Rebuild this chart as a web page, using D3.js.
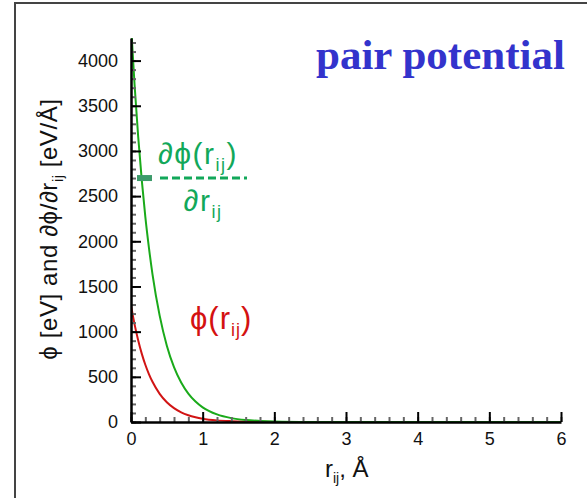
<!DOCTYPE html>
<html lang="en">
<head>
    <meta charset="UTF-8">
    <title>pair potential</title>
    <style>
        body{ margin:0; background:#fff; }
        svg{ display:block; font-family:"Liberation Sans", Arial, sans-serif; }
    </style>
</head>
<body>
    <script src="https://cdnjs.cloudflare.com/ajax/libs/d3/7.8.2/d3.min.js"></script>
    <script>

        // distances r_ij (Å) where the curves were read
        const rValues = [0, 0.05, 0.1, 0.15, 0.2, 0.25, 0.3, 0.4, 0.5, 0.6, 0.7, 0.8, 0.9, 1.0, 1.2, 1.4, 1.6, 1.8, 2.0, 2.5, 3.0, 4.0, 5.0, 6.0];
        // phi(r_ij) in eV (red)
        const phiValues = [1290, 1080, 905, 757, 634, 531, 445, 312, 219, 153, 107, 75, 53, 37, 18, 9, 4, 2, 1, 0, 0, 0, 0, 0];
        // d phi / d r_ij in eV/Å (green, magnitude)
        const dphiValues = [4400, 3730, 3160, 2680, 2270, 1930, 1635, 1177, 845, 607, 437, 314, 226, 162, 84, 43, 22, 12, 6, 1, 0, 0, 0, 0];

        const xTicks = [0, 1, 2, 3, 4, 5, 6];
        const yTicks = [0, 500, 1000, 1500, 2000, 2500, 3000, 3500, 4000];

        const w = 587;
        const h = 498;
        const pLeft = 131, pRight = 561, pTop = 38, pBottom = 422;
        const font = "Liberation Sans, Arial, sans-serif";

        const svg = d3.select("body")
            .append("svg")
            .attr("width", w)
            .attr("height", h)

        // frame
        svg.append("path")
            .attr("d", "M15,498V3H587")
            .attr("fill", "none")
            .attr("stroke", "#444")
            .attr("stroke-width", 2)

        const x = d3.scaleLinear().domain([0, 6]).range([pLeft, pRight])
        const y = d3.scaleLinear().domain([0, 4250]).range([pBottom, pTop])

        svg.append("clipPath").attr("id", "clip")
            .append("rect")
            .attr("x", pLeft).attr("y", pTop)
            .attr("width", pRight - pLeft).attr("height", pBottom - pTop)

        const line = vals => d3.line()
            .x((d, i) => x(rValues[i]))
            .y(d => y(d))
            .curve(d3.curveMonotoneX)(vals)

        svg.append("path")
            .attr("d", line(phiValues))
            .attr("clip-path", "url(#clip)")
            .attr("fill", "none")
            .attr("stroke", "#d11414")
            .attr("stroke-width", 2)

        svg.append("path")
            .attr("d", line(dphiValues))
            .attr("clip-path", "url(#clip)")
            .attr("fill", "none")
            .attr("stroke", "#1aaa1a")
            .attr("stroke-width", 2)

        // minor ticks
        svg.append("g")
            .attr("transform", `translate(0,${pBottom})`)
            .call(d3.axisBottom(x).tickValues(d3.range(0, 6.01, 0.2)).tickSize(-5).tickFormat(""))
            .call(g => g.select(".domain").remove())
            .call(g => g.selectAll("line").attr("stroke", "#666").attr("stroke-width", 2))

        svg.append("g")
            .attr("transform", `translate(${pLeft},0)`)
            .call(d3.axisLeft(y).tickValues(d3.range(0, 4201, 100)).tickSize(-5).tickFormat(""))
            .call(g => g.select(".domain").remove())
            .call(g => g.selectAll("line").attr("stroke", "#666").attr("stroke-width", 2))

        // major ticks + labels
        svg.append("g")
            .attr("transform", `translate(0,${pBottom})`)
            .call(d3.axisBottom(x).tickValues(xTicks).tickSize(-10).tickSizeOuter(0).tickFormat(d3.format("d")))
            .call(g => g.select(".domain").attr("stroke", "#000").attr("stroke-width", 2.5))
            .call(g => g.selectAll("line").attr("stroke", "#000").attr("stroke-width", 2))
            .call(g => g.selectAll("text")
                .attr("y", 10)
                .attr("font-size", 18)
                .attr("font-family", font)
                .attr("fill", "#111"))

        svg.append("g")
            .attr("transform", `translate(${pLeft},0)`)
            .call(d3.axisLeft(y).tickValues(yTicks).tickSize(-10).tickSizeOuter(0).tickFormat(d3.format("d")))
            .call(g => g.select(".domain").attr("stroke", "#000").attr("stroke-width", 2.5))
            .call(g => g.selectAll("line").attr("stroke", "#000").attr("stroke-width", 2))
            .call(g => g.selectAll("text")
                .attr("x", -13)
                .attr("font-size", 18)
                .attr("font-family", font)
                .attr("fill", "#111"))

        // title
        svg.append("text")
            .attr("x", 316)
            .attr("y", 69)
            .attr("font-family", "Liberation Serif, Times New Roman, serif")
            .attr("font-weight", "bold")
            .attr("font-size", 43)
            .attr("fill", "#3333cc")
            .text("pair potential")

        // axis titles
        const xt = svg.append("text")
            .attr("x", 325)
            .attr("y", 477)
            .attr("font-size", 24)
            .attr("fill", "#111")
        xt.append("tspan").text("r")
        xt.append("tspan").attr("font-size", 14).attr("dy", 6).text("ij")
        xt.append("tspan").attr("dy", -6).text(", Å")

        const yt = svg.append("text")
            .attr("transform", "translate(57,229) rotate(-90)")
            .attr("text-anchor", "middle")
            .attr("font-size", 24)
            .attr("letter-spacing", 0.6)
            .attr("fill", "#111")
        yt.append("tspan").text("ϕ [eV] and ∂ϕ/∂r")
        yt.append("tspan").attr("font-size", 14).attr("dy", 6).text("ij")
        yt.append("tspan").attr("dy", -6).text(" [eV/Å]")

        // legend for derivative
        const green = "#12a85a";
        const num = svg.append("text")
            .attr("x", 198).attr("y", 164)
            .attr("text-anchor", "middle")
            .attr("font-size", 30)
            .attr("letter-spacing", 1.5)
            .attr("fill", green)
        num.append("tspan").text("∂ϕ(r")
        num.append("tspan").attr("font-size", 18).attr("dy", 7).text("ij")
        num.append("tspan").attr("dy", -7).text(")")

        svg.append("line")
            .attr("x1", 160).attr("x2", 247)
            .attr("y1", y(2700)).attr("y2", y(2700))
            .attr("stroke", green)
            .attr("stroke-width", 3)
            .attr("stroke-dasharray", "8,4")

        svg.append("line")
            .attr("x1", 137).attr("x2", 152)
            .attr("y1", y(2700)).attr("y2", y(2700))
            .attr("stroke", "#3d9b6b")
            .attr("stroke-width", 6)

        const den = svg.append("text")
            .attr("x", 203).attr("y", 211)
            .attr("text-anchor", "middle")
            .attr("font-size", 30)
            .attr("letter-spacing", 1.5)
            .attr("fill", green)
        den.append("tspan").text("∂r")
        den.append("tspan").attr("font-size", 18).attr("dy", 7).text("ij")

        // label for phi
        const ph = svg.append("text")
            .attr("x", 190).attr("y", 329)
            .attr("font-size", 31)
            .attr("letter-spacing", 1)
            .attr("fill", "#d41111")
        ph.append("tspan").text("ϕ(r")
        ph.append("tspan").attr("font-size", 18).attr("dy", 7).text("ij")
        ph.append("tspan").attr("dy", -7).text(")")

    </script>
</body>
</html>
